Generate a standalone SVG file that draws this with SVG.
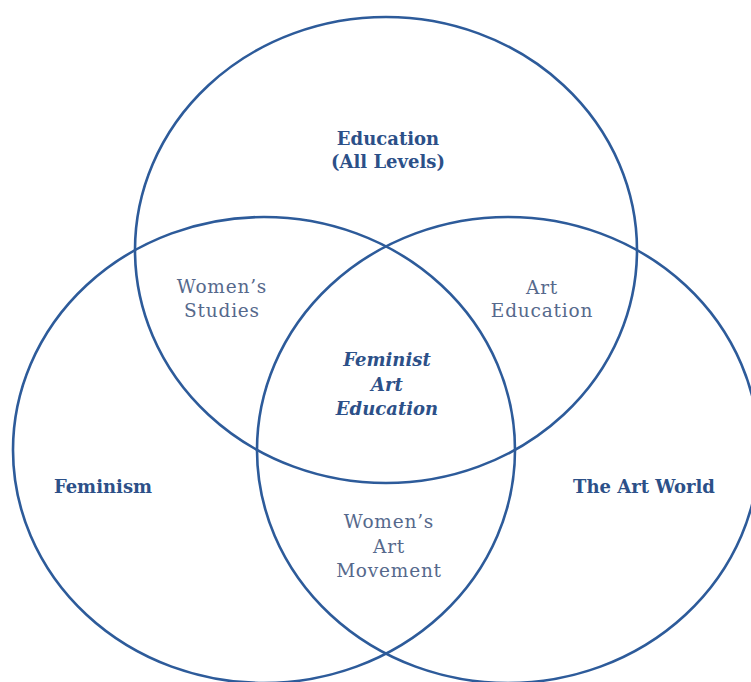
<svg xmlns="http://www.w3.org/2000/svg" width="751" height="682" viewBox="0 0 751 682">
<style>
.c{fill:none;stroke:#2d5b9a;stroke-width:2.6}
.b{font-family:"DejaVu Serif","Liberation Serif",serif;font-weight:bold;font-size:18px;fill:#2c5088;text-anchor:middle}
.r{font-family:"DejaVu Serif","Liberation Serif",serif;font-size:18.5px;fill:#56698c;text-anchor:middle;letter-spacing:0.8px}
.i{font-family:"DejaVu Serif","Liberation Serif",serif;font-weight:bold;font-style:italic;font-size:18px;fill:#2c5088;text-anchor:middle}
</style>
<rect width="751" height="682" fill="#ffffff"/>
<g id="circles">
<ellipse id="education" class="c" cx="386" cy="250" rx="251" ry="233"/>
<ellipse id="feminism" class="c" cx="264" cy="450" rx="251" ry="233"/>
<ellipse id="artworld" class="c" cx="508" cy="450" rx="251" ry="233"/>
</g>
<g id="labels">
<text class="b" x="388" y="145">Education</text>
<text class="b" x="388" y="168">(All Levels)</text>
<text class="r" x="222" y="293">Women’s</text>
<text class="r" x="222" y="317">Studies</text>
<text class="r" x="542" y="294">Art</text>
<text class="r" x="542" y="317">Education</text>
<text class="i" x="387" y="366">Feminist</text>
<text class="i" x="387" y="391">Art</text>
<text class="i" x="387" y="415">Education</text>
<text class="b" x="103" y="493">Feminism</text>
<text class="b" x="644" y="493">The Art World</text>
<text class="r" x="389" y="528">Women’s</text>
<text class="r" x="389" y="553">Art</text>
<text class="r" x="389" y="577">Movement</text>
</g>
</svg>
